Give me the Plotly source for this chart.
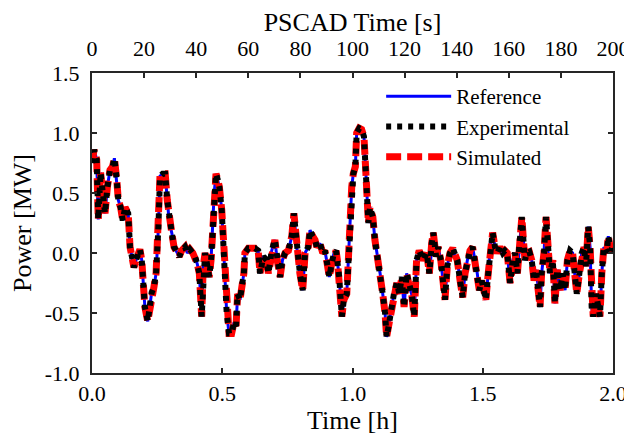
import plotly.graph_objects as go

# ---- data ----
time_h = [0.000, 0.008, 0.018, 0.024, 0.033, 0.041, 0.050, 0.059, 0.069, 0.079,
          0.086, 0.095, 0.101, 0.110, 0.118, 0.127, 0.139, 0.146, 0.152, 0.161,
          0.169, 0.178, 0.184, 0.191, 0.197, 0.203, 0.214, 0.223, 0.229, 0.238,
          0.246, 0.255, 0.261, 0.271, 0.281, 0.289, 0.297, 0.306, 0.315, 0.325,
          0.335, 0.344, 0.357, 0.366, 0.376, 0.387, 0.395, 0.404, 0.412, 0.421,
          0.427, 0.434, 0.443, 0.450, 0.457, 0.463, 0.469, 0.476, 0.483, 0.489,
          0.498, 0.504, 0.511, 0.517, 0.526, 0.536, 0.545, 0.553, 0.559, 0.568,
          0.575, 0.583, 0.587, 0.600, 0.613, 0.626, 0.638, 0.645, 0.658, 0.671,
          0.677, 0.690, 0.702, 0.711, 0.722, 0.731, 0.741, 0.754, 0.767, 0.775,
          0.786, 0.798, 0.809, 0.818, 0.830, 0.837, 0.847, 0.856, 0.863, 0.875,
          0.886, 0.894, 0.903, 0.911, 0.920, 0.929, 0.937, 0.942, 0.949, 0.959,
          0.967, 0.978, 0.984, 0.990, 0.997, 1.003, 1.011, 1.016, 1.026, 1.035,
          1.044, 1.052, 1.057, 1.061, 1.067, 1.078, 1.086, 1.097, 1.106, 1.116,
          1.125, 1.131, 1.141, 1.150, 1.159, 1.170, 1.180, 1.189, 1.198, 1.208,
          1.218, 1.227, 1.237, 1.246, 1.256, 1.272, 1.285, 1.295, 1.304, 1.310,
          1.321, 1.329, 1.339, 1.349, 1.355, 1.364, 1.374, 1.385, 1.393, 1.402,
          1.413, 1.423, 1.432, 1.441, 1.451, 1.461, 1.470, 1.479, 1.487, 1.496,
          1.505, 1.512, 1.521, 1.531, 1.538, 1.547, 1.556, 1.566, 1.577, 1.585,
          1.594, 1.605, 1.615, 1.624, 1.633, 1.640, 1.650, 1.656, 1.662, 1.669,
          1.679, 1.688, 1.697, 1.704, 1.713, 1.720, 1.726, 1.735, 1.743, 1.749,
          1.758, 1.769, 1.777, 1.786, 1.797, 1.807, 1.816, 1.825, 1.835, 1.845,
          1.854, 1.861, 1.871, 1.880, 1.889, 1.896, 1.905, 1.912, 1.918, 1.924,
          1.935, 1.944, 1.950, 1.957, 1.965, 1.976, 1.982, 1.991, 1.999]

power_mw = [0.75, 0.86, 0.78, 0.28, 0.67, 0.44, 0.33, 0.55, 0.69, 0.72,
            0.79, 0.61, 0.44, 0.38, 0.27, 0.38, 0.33, 0.05, -0.03, -0.12,
            -0.06, 0.00, 0.03, -0.06, -0.28, -0.45, -0.57, -0.42, -0.33, -0.28,
            -0.17, 0.22, 0.64, 0.66, 0.66, 0.44, 0.25, 0.17, 0.05, 0.01,
            -0.03, 0.02, 0.05, 0.00, 0.03, 0.00, -0.03, -0.09, -0.17, -0.53,
            -0.11, 0.00, -0.11, -0.20, -0.06, 0.22, 0.50, 0.66, 0.61, 0.55,
            0.36, 0.08, -0.20, -0.50, -0.67, -0.67, -0.58, -0.61, -0.34, -0.39,
            -0.28, -0.17, 0.00, 0.04, 0.04, 0.04, 0.02, -0.17, -0.03, -0.06,
            -0.17, 0.02, 0.11, -0.06, -0.20, -0.06, 0.00, 0.02, 0.14, 0.33,
            0.05, -0.17, -0.31, 0.00, 0.05, 0.19, 0.14, 0.11, 0.05, 0.08,
            0.00, 0.02, -0.09, -0.20, -0.09, 0.00, 0.02, -0.06, -0.20, -0.53,
            -0.39, -0.34, -0.06, 0.30, 0.55, 0.66, 0.72, 1.00, 1.04, 1.03,
            0.97, 0.64, 0.38, 0.25, 0.38, 0.30, 0.11, -0.03, -0.17, -0.34,
            -0.50, -0.70, -0.58, -0.45, -0.34, -0.25, -0.34, -0.20, -0.45, -0.17,
            -0.28, -0.34, -0.53, -0.06, 0.02, -0.06, 0.00, -0.17, 0.08, 0.17,
            -0.03, 0.05, -0.06, -0.31, -0.39, -0.11, 0.00, 0.04, -0.03, -0.06,
            -0.23, -0.37, -0.17, -0.06, 0.02, 0.05, -0.06, -0.17, -0.31, -0.23,
            -0.34, -0.39, -0.17, 0.11, 0.17, 0.05, 0.00, 0.05, 0.00, 0.02,
            0.00, -0.25, -0.06, 0.00, -0.17, 0.05, 0.30, 0.11, -0.06, 0.00,
            0.01, -0.06, -0.23, -0.14, -0.28, -0.45, -0.17, 0.00, 0.30, 0.05,
            -0.17, -0.06, -0.42, -0.14, -0.31, -0.17, -0.31, -0.06, 0.02, 0.00,
            -0.17, -0.34, -0.17, 0.00, 0.05, -0.11, 0.22, 0.05, -0.45, -0.53,
            -0.34, -0.50, -0.53, -0.17, 0.05, 0.00, 0.14, 0.02, 0.05]

reference_mw = power_mw
experimental_mw = power_mw
simulated_mw = power_mw

bottom_ticks = [0.0, 0.5, 1.0, 1.5, 2.0]
bottom_labels = ["0.0", "0.5", "1.0", "1.5", "2.0"]
top_ticks_s = [0, 20, 40, 60, 80, 100, 120, 140, 160, 180, 200]
y_ticks = [-1.0, -0.5, 0.0, 0.5, 1.0, 1.5]
y_labels = ["-1.0", "-0.5", "0.0", "0.5", "1.0", "1.5"]

FONT = "Liberation Serif, Times New Roman, serif"
FS = 22
AX = "#262626"

fig = go.Figure()
fig.add_trace(go.Scatter(x=time_h, y=reference_mw, name="Reference", mode="lines",
                         legendrank=1, line=dict(color="#0000ff", width=3)))
fig.add_trace(go.Scatter(x=time_h, y=simulated_mw, name="Simulated", mode="lines",
                         legendrank=3, line=dict(color="#ff0000", width=7, dash="15px,6px")))
fig.add_trace(go.Scatter(x=time_h, y=experimental_mw, name="Experimental", mode="lines",
                         legendrank=2, line=dict(color="#000000", width=6, dash="5px,6px")))
# helper trace so the top (PSCAD time) axis is drawn
fig.add_trace(go.Scatter(x=[top_ticks_s[0], top_ticks_s[-1]], y=[None, None], xaxis="x2",
                         mode="lines", showlegend=False, hoverinfo="skip"))

# the page places the figure 8 px from the top-left corner; the figure is sized to fit
fig.update_layout(
    width=624, height=439,
    margin=dict(l=84, r=19, t=65, b=74, autoexpand=False),
    paper_bgcolor="white", plot_bgcolor="white",
    font=dict(family=FONT, size=FS, color="#000000"),
    showlegend=True,
    legend=dict(x=0.555, y=0.99, xanchor="left", yanchor="top",
                bgcolor="rgba(0,0,0,0)", borderwidth=0,
                font=dict(family=FONT, size=21), itemwidth=65,
                tracegroupgap=0),
    xaxis=dict(range=[0, 2.0], tickvals=bottom_ticks, ticktext=bottom_labels,
               ticks="inside", ticklen=5, tickwidth=2, tickcolor=AX,
               showline=True, linecolor=AX, linewidth=2, mirror=True,
               showgrid=False, zeroline=False, automargin=False,
               title=dict(text="Time [h]", standoff=4)),
    xaxis2=dict(range=[0, 200], tickvals=top_ticks_s, overlaying="x", side="top",
                ticks="inside", ticklen=5, tickwidth=2, tickcolor=AX,
                ticklabelstandoff=12,
                showline=False, showgrid=False, zeroline=False, automargin=False,
                title=dict(text="PSCAD Time [s]", standoff=4)),
    yaxis=dict(range=[-1.0, 1.5], tickvals=y_ticks, ticktext=y_labels,
               ticks="inside", ticklen=5, tickwidth=2, tickcolor=AX,
               ticklabelstandoff=6,
               showline=True, linecolor=AX, linewidth=2, mirror="ticks",
               showgrid=False, zeroline=False, automargin=False,
               title=dict(text="Power [MW]", standoff=8)),
)

fig.write_html("out.html")
